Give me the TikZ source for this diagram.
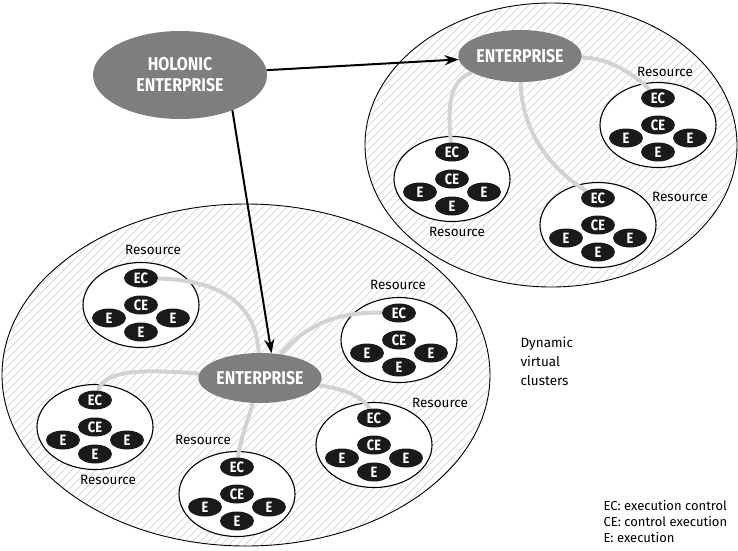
\documentclass[tikz,border=0pt]{standalone}
\usepackage{fontspec}
\setmainfont{Fira Sans}
\newfontfamily\condfont[FakeStretch=0.86]{Fira Sans}
\usepackage{xcolor}
\usepackage{tikz}
\usetikzlibrary{shapes.geometric, arrows.meta, backgrounds}
\definecolor{entgray}{HTML}{7E7E81}
\definecolor{linkgray}{HTML}{D2D2D2}
\definecolor{hatchgray}{HTML}{CACACA}
\definecolor{unitblack}{HTML}{1A1A1A}

\begin{document}
\begin{tikzpicture}[
    x=1pt, y=-1pt, >={Stealth[length=14pt,width=10pt]},
    cluster/.style={draw=black, line width=0.9pt},
    hatch/.style={hatchgray, line width=0.45pt},
    resource/.style={ellipse, draw=black, fill=white, line width=1.1pt, minimum width=116pt, minimum height=85pt},
    unit/.style={ellipse, fill=unitblack, text=white, inner sep=0pt, minimum width=34pt, minimum height=19pt, font=\condfont\bfseries\fontsize{15}{15}\selectfont},
    enterprise/.style={ellipse, fill=entgray, text=white, inner sep=0pt, align=center, font=\condfont\bfseries\fontsize{18.5}{21}\selectfont},
    reslabel/.style={font=\fontsize{13.5}{13.5}\selectfont},
    link/.style={linkgray, line width=4pt},
    arrow/.style={->, line width=2pt, black}
]
    \useasboundingbox (0,0) rectangle (738,550);

    \begin{pgfonlayer}{background}
        \begin{scope}
            \clip (246,375) ellipse [x radius=244, y radius=171];
            \foreach \i in {-560,-552,...,740} \draw[hatch] (\i,550) -- (\i+550,0);
        \end{scope}
        \begin{scope}
            \clip (551,145) ellipse [x radius=186, y radius=142];
            \foreach \i in {-560,-552,...,740} \draw[hatch] (\i,550) -- (\i+550,0);
        \end{scope}
        \draw[cluster] (246,375) ellipse [x radius=244, y radius=171];
        \draw[cluster] (551,145) ellipse [x radius=186, y radius=142];
    \end{pgfonlayer}

    \foreach \n/\x/\y/\lx/\ly in {1/658/125/665/72, 2/452/179/457/232, 3/598/225/680/197, 4/141/305/153/250,
                                  5/399/340/398/285, 6/95/427/108/480, 7/237/494/203/440, 8/374/445/440/403} {
        \begin{pgfonlayer}{background}
            \node[resource] (res\n) at (\x,\y) {};
        \end{pgfonlayer}
        \node[unit] (ec\n) at (\x,\y-27) {EC};
        \node[unit] (ce\n) at (\x,\y) {CE};
        \node[unit] (el\n) at (\x-32,\y+13) {E};
        \node[unit] (er\n) at (\x+32,\y+13) {E};
        \node[unit] (eb\n) at (\x,\y+27) {E};
        \node[reslabel] (lab\n) at (\lx,\ly) {Resource};
    }

    \node[enterprise, minimum width=174pt, minimum height=88pt] (hol) at (180,75) {HOLONIC\\ENTERPRISE};
    \node[enterprise, minimum width=112pt, minimum height=52pt] (ent1) at (520,56) {ENTERPRISE};
    \node[enterprise, minimum width=114pt, minimum height=50pt] (ent2) at (260,378) {ENTERPRISE};

    \begin{pgfonlayer}{background}
        \draw[link] (ent1) .. controls (610,58) and (635,75) .. (ec1);
        \draw[link] (ent1) .. controls (450,80) and (447,105) .. (ec2);
        \draw[link] (ent1) .. controls (522,140) and (560,175) .. (ec3);
        \draw[link] (ent2) .. controls (256,300) and (215,280) .. (ec4);
        \draw[link] (ent2) .. controls (310,320) and (345,312) .. (ec5);
        \draw[link] (ent2) .. controls (150,370) and (105,368) .. (ec6);
        \draw[link] (ent2) .. controls (248,420) and (240,440) .. (ec7);
        \draw[link] (ent2) .. controls (340,388) and (362,395) .. (ec8);
    \end{pgfonlayer}

    \draw[arrow] (hol) -- (ent1);
    \draw[arrow] (hol.-34) -- (ent2.65);

    \node[anchor=west, align=left, font=\fontsize{13.5}{19}\selectfont] (dyn) at (517,361) {Dynamic\\virtual\\clusters};
    \node[anchor=west, align=left, font=\fontsize{13}{16}\selectfont] (legend) at (600,521) {EC: execution control\\CE: control execution\\E: execution};
\end{tikzpicture}
\end{document}
